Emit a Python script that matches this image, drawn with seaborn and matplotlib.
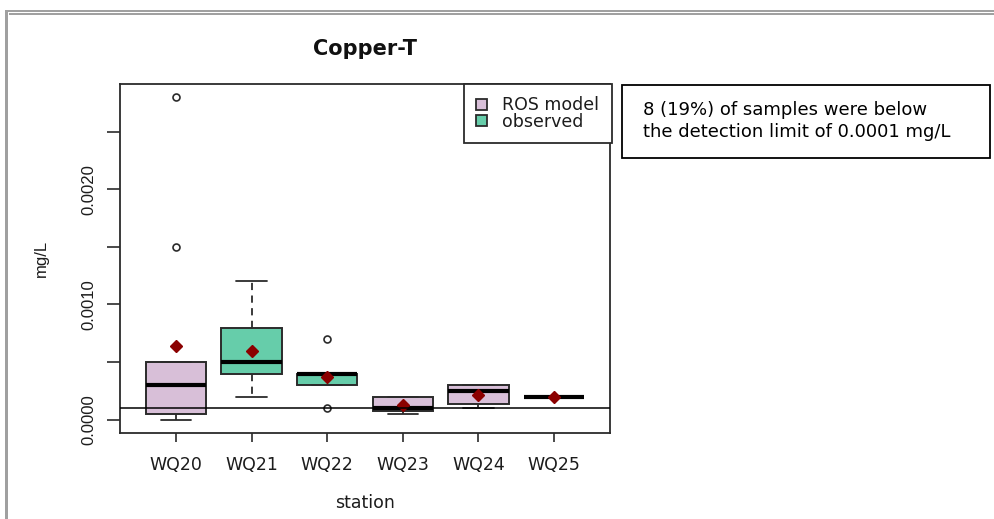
import matplotlib
matplotlib.use("Agg")
import matplotlib.pyplot as plt
from matplotlib.patches import Patch, Rectangle
import pandas as pd
import seaborn as sns

# Copper-T concentrations (mg/L) per monitoring station
stations = ["WQ20", "WQ21", "WQ22", "WQ23", "WQ24", "WQ25"]
method = ["ROS model", "observed", "observed", "ROS model", "ROS model", "ROS model"]
wq20 = [0.0, 0.00002, 0.00005, 0.0002, 0.0003, 0.0004, 0.0005, 0.0015, 0.0028]
wq21 = [0.0002, 0.0003, 0.0004, 0.0004, 0.0005, 0.0006, 0.0008, 0.0010, 0.0012]
wq22 = [0.0001, 0.0003, 0.0003, 0.00035, 0.0004, 0.0004, 0.0004, 0.0004, 0.0007]
wq23 = [0.00005, 0.00008, 0.0001, 0.0002, 0.0002]
wq24 = [0.0001, 0.00014, 0.00025, 0.0003, 0.0003]
wq25 = [0.0002, 0.0002, 0.0002, 0.0002, 0.0002]
samples = [wq20, wq21, wq22, wq23, wq24, wq25]

detection_limit = 0.0001
n_below = 8
pct_below = 19

y_ticks = [0.0, 0.0005, 0.0010, 0.0015, 0.0020, 0.0025]
y_labels = ["0.0000", "", "0.0010", "", "0.0020", ""]

colors = {"ROS model": "#D8BFD8", "observed": "#66CDAA"}
edge = "#2b2b2b"
ink = "#1c1c1c"

rows = [(st, m, v) for st, m, vals in zip(stations, method, samples) for v in vals]
df = pd.DataFrame(rows, columns=["station", "method", "value"])

sns.set_theme(style="white")
plt.rcParams["font.family"] = ["DejaVu Sans"]

W, H = 995, 519
fig = plt.figure(figsize=(W / 100, H / 100), dpi=100)
ax = fig.add_axes([120 / W, 1 - 432.7 / H, 490 / W, 348.7 / H])

sns.boxplot(
    data=df, x="station", y="value", hue="method",
    order=stations, hue_order=["ROS model", "observed"],
    palette=colors, dodge=False, width=0.8, saturation=1,
    linecolor=edge, linewidth=1.4, legend=False, ax=ax,
    showmeans=True,
    meanprops=dict(marker="D", markerfacecolor="#8B0000",
                   markeredgecolor="#8B0000", markersize=6),
    medianprops=dict(color="black", linewidth=3),
    whiskerprops=dict(color=edge, linestyle=(0, (4, 3)), linewidth=1.3),
    capprops=dict(color=edge, linewidth=1.3),
    flierprops=dict(marker="o", markerfacecolor="none", markeredgecolor=edge,
                    markersize=5, markeredgewidth=1.2),
)

# detection limit reference line
ax.axhline(detection_limit, color="black", linewidth=1.1, zorder=6)

ax.set_xlim(-0.74, 5.74)
ax.set_ylim(-0.000112, 0.002912)
ax.set_yticks(y_ticks)
ax.set_yticklabels(y_labels, rotation=90, va="center",
                   fontfamily="Liberation Sans", fontsize=12, color=ink)
for lab in ax.get_xticklabels():
    lab.set_fontsize(12.5)
    lab.set_color(ink)
ax.tick_params(axis="y", direction="out", length=9.4, width=1.2, color=edge, pad=7.5, left=True)
ax.tick_params(axis="x", direction="out", length=6.5, width=1.2, color=edge, pad=10, bottom=True)
for sp in ax.spines.values():
    sp.set_color(edge)
    sp.set_linewidth(1.3)

ax.set_xlabel("station", fontsize=12.5, color=ink)
ax.xaxis.set_label_coords(0.5, -0.176)
ax.set_ylabel("mg/L", fontfamily="Liberation Sans", fontsize=12, color=ink)
ax.yaxis.set_label_coords(-0.145, 0.5)
ax.set_title("Copper-T", fontsize=15, fontweight="bold", pad=21, color="#111111")

handles = [Patch(facecolor=colors[k], edgecolor=edge, linewidth=1.3, label=k)
           for k in ["ROS model", "observed"]]
leg = ax.legend(handles=handles, loc="upper right", bbox_to_anchor=(1.004, 1.0),
                borderaxespad=0, fontsize=12.5, frameon=True, fancybox=False,
                framealpha=1, edgecolor=edge, handlelength=0.6, handleheight=0.6,
                handletextpad=0.9, labelspacing=-0.1, borderpad=0.72)
leg.get_frame().set_linewidth(1.3)
for t in leg.get_texts():
    t.set_color(ink)

# note box beside the plot
fig.add_artist(Rectangle((622 / W, 1 - 158 / H), 368 / W, 73 / H,
                         transform=fig.transFigure, facecolor="white",
                         edgecolor="black", linewidth=1.3))
fig.text(643 / W, 1 - 121 / H,
         f"{n_below} ({pct_below}%) of samples were below\n"
         f"the detection limit of {detection_limit:.4f} mg/L",
         ha="left", va="center", fontsize=13, linespacing=1.35, color="black")

# page frame
grey = "#A0A0A0"
fig.add_artist(Rectangle((5 / W, 0), 3.5 / W, 1 - 10 / H, transform=fig.transFigure,
                         facecolor=grey, edgecolor="none"))
fig.add_artist(Rectangle((5 / W, 1 - 12 / H), 1 - 5 / W, 2 / H, transform=fig.transFigure,
                         facecolor=grey, edgecolor="none"))
fig.add_artist(Rectangle((8.5 / W, 1 - 15 / H), 1 - 8.5 / W, 2 / H, transform=fig.transFigure,
                         facecolor=grey, edgecolor="none"))

fig.savefig("out.png", dpi=100)
